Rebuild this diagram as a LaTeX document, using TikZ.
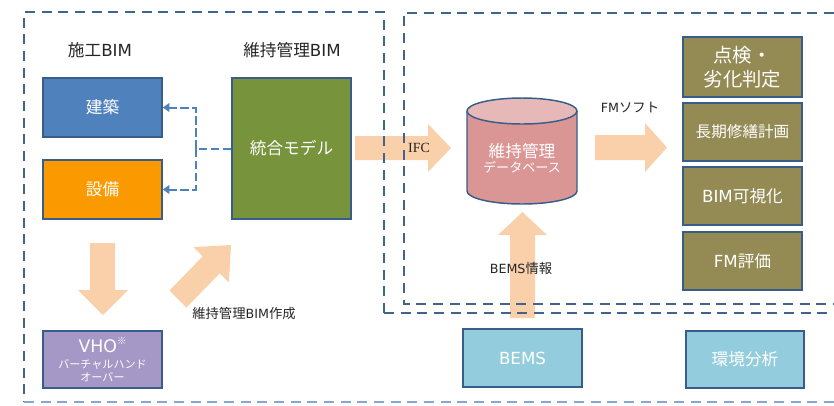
\documentclass[tikz,border=0pt]{standalone}
\usepackage{fontspec}
\setmainfont{Noto Sans CJK JP}
\newfontfamily\lat{DejaVu Sans}
\newfontfamily\ser{Liberation Serif}
\usetikzlibrary{arrows.meta}
\definecolor{cblue}{HTML}{4F81BD}
\definecolor{corange}{HTML}{FA9A00}
\definecolor{cgreen}{HTML}{77933C}
\definecolor{cpurple}{HTML}{A597C6}
\definecolor{colive}{HTML}{948A54}
\definecolor{clblue}{HTML}{93CDDD}
\definecolor{cdb}{HTML}{D99694}
\definecolor{cdbtop}{HTML}{E6B9B8}
\definecolor{bord}{HTML}{385D8A}
\definecolor{peach}{HTML}{FAD0AA}
\definecolor{frm}{HTML}{41648F}
\definecolor{frml}{HTML}{86A8CF}
\definecolor{dcon}{HTML}{4F81BD}
\definecolor{labc}{HTML}{262626}
\begin{document}
\begin{tikzpicture}[x=0.75pt,y=-0.75pt,
  box/.style={draw=bord, line width=1.1pt, text=white, inner sep=0pt, align=center,
    font=\fontsize{12.5}{15}\selectfont},
  frame/.style={draw=frm, line width=1.5pt, dash pattern=on 7.5pt off 5pt},
  dconn/.style={draw=dcon, line width=1.5pt, dash pattern=on 6.5pt off 2.5pt},
  lab/.style={text=labc, inner sep=0pt, font=\fontsize{10}{12}\selectfont},
  title/.style={text=labc, inner sep=0pt, font=\fontsize{12.5}{15}\selectfont}]
\useasboundingbox (0,0) rectangle (834,405);

% big block arrows (drawn first, frames on top)
\fill[peach] (90,243) -- (115,243) -- (115,290) -- (128,290) -- (103,315) -- (78,290) -- (90,290) -- cycle;
\fill[peach] (169.5,290.5) -- (202.7,256.3) -- (193.5,247.1) -- (231,245) -- (228.9,282.5) -- (219.7,273.3) -- (186.5,307.5) -- cycle;
\fill[peach] (355,136) -- (428,136) -- (428,124) -- (451,148) -- (428,172) -- (428,160) -- (355,160) -- cycle;
\fill[peach] (595,135) -- (645,135) -- (645,123) -- (667,147.5) -- (645,172) -- (645,160) -- (595,160) -- cycle;
\fill[peach] (510,318) -- (510,235) -- (498,235) -- (522.5,212) -- (547,235) -- (535,235) -- (535,318) -- cycle;

% frames
\draw[frame] (384,313) -- (384,12) -- (24,12) -- (24,402);
\draw[frame] (384,313) -- (834,313);
\draw[frame, draw=frml] (24,402) -- (834,402);
\draw[frame] (834,13) -- (404,13) -- (404,304) -- (834,304);

% titles
\node[title] (t1) at (100,50) {施工{\lat BIM}};
\node[title] (t2) at (292,50) {維持管理{\lat BIM}};

% left boxes
\node[box, fill=cblue, minimum width=119*0.75pt, minimum height=59*0.75pt] (ken) at (102.5,107.5) {建築};
\node[box, fill=corange, minimum width=119*0.75pt, minimum height=59*0.75pt] (set) at (102.5,189.5) {設備};
\node[box, fill=cgreen, minimum width=119*0.75pt, minimum height=141*0.75pt] (tou) at (291.5,148.5) {統合モデル};
\node[box, fill=cpurple, minimum width=119*0.75pt, minimum height=57*0.75pt] (vho) at (102.5,359.5) {};
\node[text=white, inner sep=0pt, font=\fontsize{13}{14}\selectfont] (vhot) at (102.5,345) {{\lat VHO}\raisebox{0.8ex}{\fontsize{7}{8}\selectfont ※}};
\node[text=white, inner sep=0pt, align=center, font=\fontsize{8.3}{9.8}\selectfont] (vhos) at (102.5,371) {バーチャルハンド\\オーバー};

% dashed connectors
\coordinate (j) at (196,148.5);
\draw[dconn] (tou.west) -- (j);
\draw[dconn, -{Triangle[length=5pt,width=6.5pt]}] (j) |- (ken.east);
\draw[dconn, -{Triangle[length=5pt,width=6.5pt]}] (j) |- (set.east);

% labels
\node[lab] (l1) at (244,313) {維持管理{\lat\fontsize{9.5}{12}\selectfont BIM}作成};
\node[lab, font=\fontsize{10.5}{12}\ser] (ifc) at (419,148) {IFC};
\node[lab] (fm) at (630,108) {{\lat\fontsize{9.5}{12}\selectfont FM}ソフト};
\node[lab] (bi) at (521,268) {{\lat\fontsize{9.5}{12}\selectfont BEMS}情報};

% database cylinder
\fill[cdb] (467,111) -- (467,191) arc[start angle=180, end angle=360, x radius=41.25pt, y radius=9.75pt] -- (577,111) arc[start angle=0, end angle=180, x radius=41.25pt, y radius=9.75pt] -- cycle;
\draw[draw=bord, line width=1.1pt] (467,111) -- (467,191) arc[start angle=180, end angle=360, x radius=41.25pt, y radius=9.75pt] -- (577,111);
\filldraw[fill=cdbtop, draw=bord, line width=1.1pt] (522,111) ellipse [x radius=41.25pt, y radius=9.75pt];
\node[text=white, inner sep=0pt, align=center] (db) at (522,158) {{\fontsize{12.5}{17}\selectfont 維持管理}\\[-1pt]{\fontsize{9.8}{12}\selectfont データベース}};

% right boxes
\node[box, fill=colive, minimum width=119*0.75pt, minimum height=60*0.75pt, font=\fontsize{14.5}{18}\selectfont] (r1) at (742.5,67) {点検・\\劣化判定};
\node[box, fill=colive, minimum width=119*0.75pt, minimum height=58*0.75pt, font=\fontsize{11.7}{14}\selectfont] (r2) at (742.5,132) {長期修繕計画};
\node[box, fill=colive, minimum width=119*0.75pt, minimum height=58*0.75pt] (r3) at (742.5,196) {{\lat BIM}可視化};
\node[box, fill=colive, minimum width=119*0.75pt, minimum height=58*0.75pt] (r4) at (742.5,261) {{\lat FM}評価};

% bottom boxes
\node[box, fill=clblue, minimum width=119*0.75pt, minimum height=58*0.75pt] (bems) at (522.5,358) {{\lat BEMS}};
\node[box, fill=clblue, minimum width=118*0.75pt, minimum height=57*0.75pt] (kan) at (745,359.5) {環境分析};
\end{tikzpicture}
\end{document}
